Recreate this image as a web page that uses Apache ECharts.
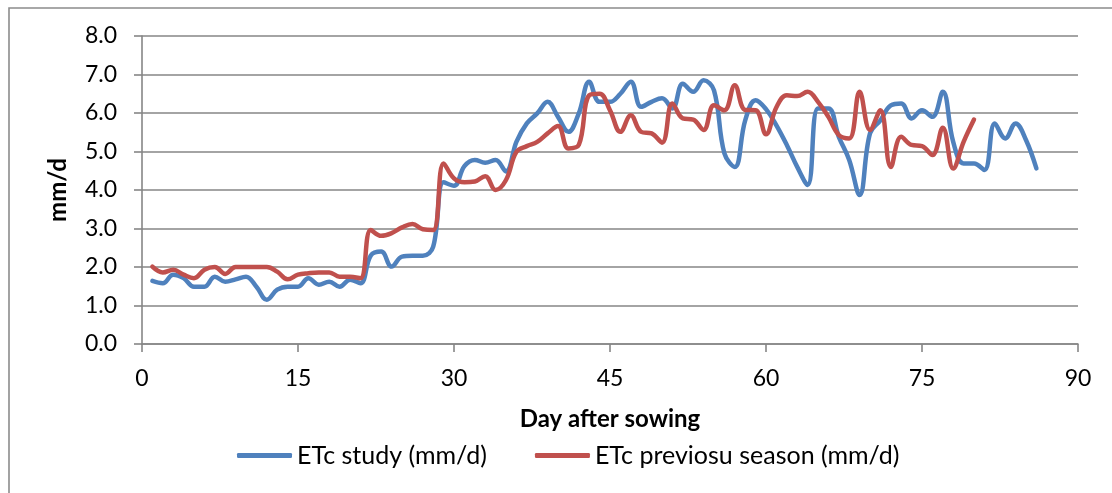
<!DOCTYPE html>
<html>
<head>
<meta charset="utf-8">
<script src="https://cdn.jsdelivr.net/npm/echarts@6/dist/echarts.min.js"></script>
<style>
  html, body { margin: 0; padding: 0; background: #fff; }
  #chart { width: 1112px; height: 493px; }
</style>
</head>
<body>
<div id="chart"></div>
<script>
// Day after sowing for each observation
const days = [
  1, 2, 3, 4, 5, 6, 7, 8, 9, 10,
  11, 12, 13, 14, 15, 16, 17, 18, 19, 20,
  21, 22, 23, 24, 25, 26, 27, 28, 29, 30,
  31, 32, 33, 34, 35, 36, 37, 38, 39, 40,
  41, 42, 43, 44, 45, 46, 47, 48, 49, 50,
  51, 52, 53, 54, 55, 56, 57, 58, 59, 60,
  61, 62, 63, 64, 65, 66, 67, 68, 69, 70,
  71, 72, 73, 74, 75, 76, 77, 78, 79, 80,
  81, 82, 83, 84, 85, 86
];

// ETc of the current study (mm/d), days 1..86
const etcStudy = [
  1.64, 1.58, 1.80, 1.71, 1.49, 1.49, 1.75, 1.62, 1.68, 1.75,
  1.49, 1.15, 1.41, 1.49, 1.49, 1.71, 1.54, 1.62, 1.49, 1.67,
  1.58, 2.30, 2.40, 2.01, 2.27, 2.29, 2.29, 2.53, 4.20, 4.11,
  4.62, 4.78, 4.71, 4.78, 4.48, 5.25, 5.73, 5.99, 6.29, 5.90,
  5.51, 5.99, 6.81, 6.29, 6.29, 6.50, 6.81, 6.16, 6.29, 6.38,
  6.12, 6.76, 6.55, 6.85, 6.59, 4.95, 4.60, 5.81, 6.33, 6.10,
  5.68, 5.17, 4.60, 4.13, 6.12, 6.12, 5.38, 4.78, 3.87, 5.47,
  5.81, 6.20, 6.25, 5.86, 6.07, 5.90, 6.55, 5.25, 4.69, 4.69,
  4.52, 5.73, 5.34, 5.73, 5.30, 4.56
];

// ETc of the previous season (mm/d), days 1..80
const etcPrevious = [
  2.01, 1.86, 1.93, 1.80, 1.71, 1.93, 2.00, 1.82, 2.00, 2.00,
  2.00, 2.00, 1.88, 1.68, 1.80, 1.84, 1.86, 1.86, 1.75, 1.75,
  1.71, 2.96, 2.81, 2.88, 3.03, 3.12, 2.98, 2.96, 4.69, 4.30,
  4.20, 4.22, 4.36, 4.00, 4.26, 4.99, 5.14, 5.25, 5.47, 5.66,
  5.08, 5.17, 6.46, 6.50, 6.07, 5.51, 5.94, 5.51, 5.47, 5.23,
  6.25, 5.86, 5.83, 5.56, 6.20, 6.07, 6.72, 6.08, 6.07, 5.45,
  6.15, 6.46, 6.44, 6.55, 6.29, 5.90, 5.43, 5.34, 6.55, 5.56,
  6.07, 4.60, 5.38, 5.17, 5.14, 4.91, 5.62, 4.56, 5.25, 5.83
];

const seriesNames = ['ETc study (mm/d)', 'ETc previosu season (mm/d)'];
const seriesColors = ['#4F81BD', '#C0504D'];

const FONT = 'Lato';
const GRID_GRAY = '#868686';

const pairs = (vals) => vals.map((v, i) => [days[i], v]);

const chart = echarts.init(document.getElementById('chart'), null, { renderer: 'canvas' });

chart.setOption({
  animation: false,
  backgroundColor: '#ffffff',
  textStyle: { fontFamily: FONT, color: '#000' },
  graphic: [{
    type: 'rect',
    shape: { x: 9, y: 8, width: 1200, height: 600 },
    style: { fill: 'none', stroke: '#8c8c8c', lineWidth: 1.6 },
    silent: true
  }],
  grid: { left: 142, right: 34, top: 36, bottom: 149, containLabel: false },
  legend: {
    data: seriesNames,
    bottom: 20,
    left: 232,
    itemWidth: 55,
    itemHeight: 5,
    itemGap: 48,
    icon: 'roundRect',
    textStyle: { fontFamily: FONT, fontSize: 25, color: '#000' }
  },
  xAxis: {
    type: 'value',
    min: 0,
    max: 90,
    interval: 15,
    name: 'Day after sowing',
    nameLocation: 'middle',
    nameGap: 63,
    nameTextStyle: { fontFamily: FONT, fontSize: 24, fontWeight: 'bold', color: '#000' },
    axisLine: { show: true, onZero: false, lineStyle: { color: GRID_GRAY, width: 1.6 } },
    axisTick: { show: true, length: 8, lineStyle: { color: GRID_GRAY, width: 1.6 } },
    axisLabel: { fontFamily: FONT, fontSize: 23, color: '#000', margin: 23 },
    splitLine: { show: false }
  },
  yAxis: {
    type: 'value',
    min: 0,
    max: 8,
    interval: 1,
    name: 'mm/d',
    nameLocation: 'middle',
    nameGap: 72,
    nameRotate: 90,
    nameTextStyle: { fontFamily: FONT, fontSize: 24, fontWeight: 'bold', color: '#000' },
    axisLine: { show: true, lineStyle: { color: GRID_GRAY, width: 1.6 } },
    axisTick: { show: true, length: 8, lineStyle: { color: GRID_GRAY, width: 1.6 } },
    axisLabel: { fontFamily: FONT, fontSize: 23, color: '#000', margin: 25,
      formatter: (v) => v.toFixed(1) },
    splitLine: { show: true, lineStyle: { color: GRID_GRAY, width: 1.6 } }
  },
  series: [
    {
      name: seriesNames[0],
      type: 'line',
      data: pairs(etcStudy),
      smooth: 0.4,
      showSymbol: false,
      symbol: 'none',
      lineStyle: { color: seriesColors[0], width: 4.5, cap: 'round', join: 'round' },
      itemStyle: { color: seriesColors[0] },
      z: 3
    },
    {
      name: seriesNames[1],
      type: 'line',
      data: pairs(etcPrevious),
      smooth: 0.4,
      showSymbol: false,
      symbol: 'none',
      lineStyle: { color: seriesColors[1], width: 4.5, cap: 'round', join: 'round' },
      itemStyle: { color: seriesColors[1] },
      z: 4
    }
  ]
});
</script>
</body>
</html>
